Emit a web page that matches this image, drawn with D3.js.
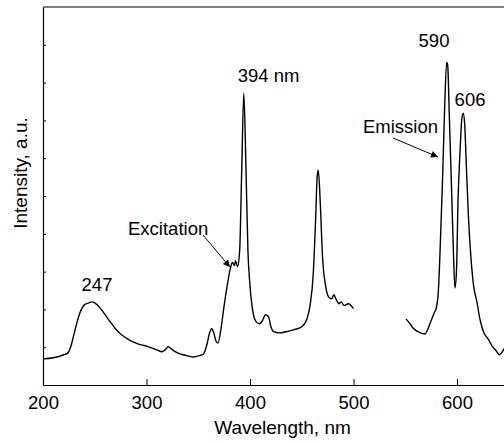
<!DOCTYPE html>
<html>
<head>
<meta charset="utf-8">
<script src="https://cdn.jsdelivr.net/npm/d3@7/dist/d3.min.js"></script>
<style>
  body { margin: 0; background: #fff; }
  svg { display: block; }
  text { font-family: "Liberation Sans", Arial, sans-serif; fill: #000; }
</style>
</head>
<body>
<div id="chart"></div>
<script>
// Excitation spectrum (wavelength nm, intensity a.u.)
var excWavelength = [200, 210, 220, 224, 227, 230, 235, 240, 244, 247, 250, 255, 260, 265, 270, 275, 280, 285, 290, 295,
  300, 305, 310, 315, 318, 321, 325, 330, 335, 340, 345, 350, 355, 358, 361, 363, 365, 367, 369, 372,
  375, 378, 381, 383, 385, 386, 388, 390, 392, 394, 396, 398, 400, 403, 406, 409, 412, 415, 418, 420,
  423, 428, 435, 442, 450, 455, 458, 461, 463, 465, 466, 468, 470, 473, 476, 479, 481, 483, 486, 488,
  491, 495, 500];
var excIntensity = [69, 72, 80, 85, 103, 135, 186, 212, 217, 220, 217, 204, 186, 167, 149, 135, 125, 117, 111, 106,
  103, 98, 93, 88, 93, 101, 93, 85, 80, 77, 74, 77, 82, 103, 138, 149, 138, 117, 111, 149,
  210, 263, 308, 324, 316, 329, 313, 355, 568, 772, 589, 355, 263, 191, 167, 162, 170, 186, 180, 156,
  141, 138, 141, 146, 154, 175, 210, 289, 408, 554, 568, 475, 342, 263, 233, 228, 239, 228, 215, 220,
  210, 215, 202];

// Emission spectrum
var emWavelength = [550.7, 554.6, 557.5, 562.3, 569, 572, 575, 578, 580, 582, 584, 586, 588, 590, 591, 592.5, 594.5,
  596.5, 598, 599.5, 601, 603, 604.5, 606, 607.5, 609, 611, 613, 616, 619, 622.5, 626, 630, 634, 638, 641, 643, 646];
var emIntensity = [175, 162, 151, 141, 135, 149, 170, 191, 204, 249, 382, 541, 727, 854, 846, 719, 541,
  355, 257, 302, 488, 621, 700, 719, 687, 581, 448, 355, 263, 223, 170, 138, 122, 103, 90, 80, 85, 98];

var xTicks = [200, 300, 400, 500, 600];
var yTicks = [100, 200, 300, 400, 500, 600, 700, 800, 900];

// Peak labels: [text, wavelength, intensity]
var peakLabels = [
  ['247', 252.2, 248],
  ['394 nm', 417.9, 802],
  ['590', 577.8, 895],
  ['606', 612.6, 739]
];

var width = 504, height = 443;
var svg = d3.select('#chart').append('svg')
  .attr('width', width)
  .attr('height', height);

var x = d3.scaleLinear().domain([200, 700]).range([43, 560.5]);
var y = d3.scaleLinear().domain([0, 1000]).range([385, 7]);

// Frame (top and right)
svg.append('path')
  .attr('d', 'M' + x(200) + ',' + y(1000) + 'H' + x(700) + 'V' + y(0))
  .style('fill', 'none')
  .style('stroke', '#000')
  .style('stroke-width', 1);

// Axes, ticks pointing inward
var xAxis = svg.append('g')
  .attr('transform', 'translate(0,' + y(0) + ')')
  .call(d3.axisBottom(x).tickValues(xTicks).tickSize(-6).tickPadding(11).tickSizeOuter(0));
var yAxis = svg.append('g')
  .attr('transform', 'translate(' + x(200) + ',0)')
  .call(d3.axisLeft(y).tickValues(yTicks).tickSize(-3).tickFormat('').tickSizeOuter(0));

[xAxis, yAxis].forEach(function(a) {
  a.select('.domain').style('stroke', '#000').style('stroke-width', 1.2);
  a.selectAll('.tick line').style('stroke', '#000');
});
xAxis.selectAll('.tick text')
  .style('font-size', '18.5px')
  .style('font-family', '"Liberation Sans", Arial, sans-serif')
  .attr('dy', '0.71em');

// Axis titles
svg.append('text')
  .attr('x', (x(200) + 504) / 2 + 9)
  .attr('y', 434)
  .attr('text-anchor', 'middle')
  .style('font-size', '19px')
  .text('Wavelength, nm');

svg.append('text')
  .attr('transform', 'translate(27,' + 173 + ') rotate(-90)')
  .attr('text-anchor', 'middle')
  .style('font-size', '19px')
  .text('Intensity, a.u.');

// Spectra
var line = d3.line()
  .x(function(d) { return x(d[0]); })
  .y(function(d) { return y(d[1]); })
  .curve(d3.curveMonotoneX);

var excData = d3.zip(excWavelength, excIntensity);
var emData = d3.zip(emWavelength, emIntensity);

[excData, emData].forEach(function(data) {
  svg.append('path')
    .datum(data)
    .attr('d', line)
    .style('fill', 'none')
    .style('stroke', '#000')
    .style('stroke-width', 1.4)
    .style('stroke-linejoin', 'round');
});

// Peak labels
svg.selectAll('.peakLabel')
  .data(peakLabels)
  .enter().append('text')
    .attr('class', 'peakLabel')
    .attr('x', function(d) { return x(d[1]); })
    .attr('y', function(d) { return y(d[2]); })
    .attr('text-anchor', 'middle')
    .style('font-size', '18.5px')
    .text(function(d) { return d[0]; });

// Arrow annotations
svg.append('defs').append('marker')
  .attr('id', 'arrowHead')
  .attr('viewBox', '0 0 10 10')
  .attr('refX', 10)
  .attr('refY', 5)
  .attr('markerWidth', 9)
  .attr('markerHeight', 7)
  .attr('markerUnits', 'userSpaceOnUse')
  .attr('orient', 'auto')
  .append('path')
    .attr('d', 'M0,0L10,5L0,10Z')
    .style('fill', '#000');

// [text, text wavelength, text intensity, arrow start, arrow end]
var annotations = [
  ['Excitation', 200 + (128 - 43) / 1.035, (385 - 235) / 0.378, [203, 235], [230, 267]],
  ['Emission', 200 + (363 - 43) / 1.035, (385 - 133) / 0.378, [393, 138], [438, 157]]
];

annotations.forEach(function(a) {
  svg.append('text')
    .attr('x', x(a[1]))
    .attr('y', y(a[2]))
    .style('font-size', '18.5px')
    .text(a[0]);
  svg.append('line')
    .attr('x1', a[3][0]).attr('y1', a[3][1])
    .attr('x2', a[4][0]).attr('y2', a[4][1])
    .style('stroke', '#000')
    .style('stroke-width', 1)
    .attr('marker-end', 'url(#arrowHead)');
});
</script>
</body>
</html>
